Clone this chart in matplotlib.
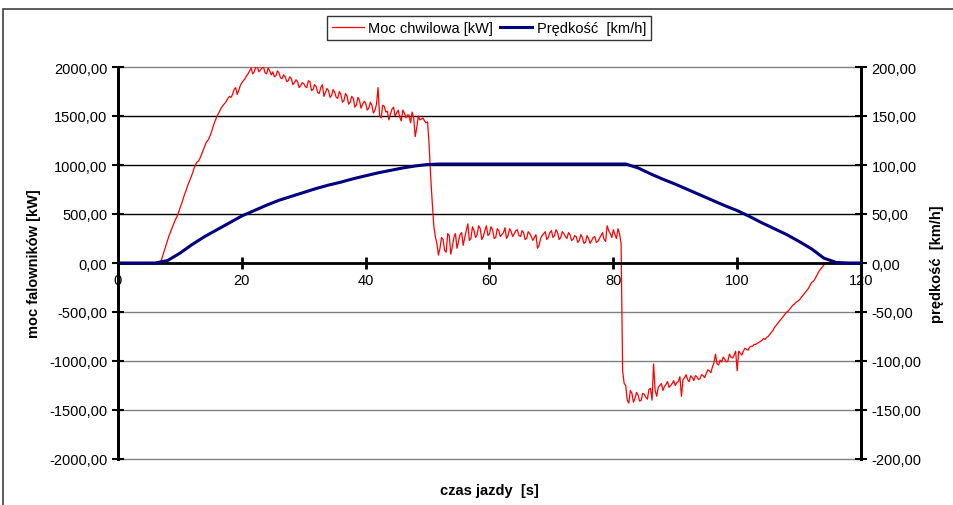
import numpy as np
import matplotlib
matplotlib.use("Agg")
import matplotlib.pyplot as plt
from matplotlib.ticker import FuncFormatter, MultipleLocator
from matplotlib.patches import Rectangle

plt.rcParams['font.family'] = ['Liberation Sans', 'DejaVu Sans']

# power read at whole/half seconds: t = 0, 0.5, ... 120
power_a = [
    0, 0, 0, 0, 0, 0, 0, 0, 0, 0,
    0, 0, 0, 0, 30, 130, 230, 320, 400, 470,
    560, 650, 740, 830, 910, 1000, 1040, 1110, 1190, 1250,
    1320, 1420, 1500, 1560, 1610, 1650, 1700, 1720, 1790, 1760,
    1840, 1880, 1930, 1990, 1950, 2000, 1970, 2000, 1930, 1960,
    1950, 1910, 1940, 1880, 1900, 1860, 1880, 1840, 1850, 1810,
    1830, 1790, 1850, 1770, 1800, 1730, 1820, 1740, 1760, 1710,
    1740, 1680, 1720, 1660, 1700, 1640, 1680, 1610, 1660, 1620,
    1630, 1580, 1610, 1560, 1790, 1480, 1600, 1550, 1520, 1590,
    1530, 1490, 1560, 1480, 1510, 1540, 1290, 1500, 1470, 1450,
    1440, 880, 380, 200, 150, 240, 110, 280, 170, 300,
    220, 310, 260, 400, 250, 330, 290, 350, 270, 380,
    300, 340, 260, 330, 290, 360, 280, 320, 300, 340,
    270, 310, 250, 300, 230, 290, 180, 280, 320, 260,
    330, 280, 310, 260, 300, 250, 290, 240, 270, 230,
    260, 210, 250, 230, 270, 220, 280, 240, 380, 300,
    340, 250, 300, -1100, -1250, -1430, -1330, -1380, -1350, -1400,
    -1340, -1390, -1280, -1030, -1360, -1250, -1300, -1240, -1270, -1230,
    -1250, -1210, -1360, -1170, -1190, -1150, -1200, -1160, -1180, -1150,
    -1130, -1100, -1060, -930, -1040, -1010, -980, -1000, -960, -940,
    -1100, -920, -900, -880, -860, -850, -830, -810, -790, -780,
    -750, -710, -660, -620, -580, -540, -500, -470, -430, -400,
    -380, -340, -300, -260, -200, -170, -110, -60, -20, 0,
    0, 0, 0, 0, 0, 0, 0, 0, 0, 0,
    0,
]
# power read at quarter seconds: t = 0.25, 0.75, ... 119.75
power_b = [
    0, 0, 0, 0, 0, 0, 0, 0, 0, 0,
    0, 0, 0, 0, 80, 180, 280, 360, 440, 510,
    600, 700, 790, 870, 960, 1030, 1070, 1150, 1230, 1280,
    1370, 1460, 1530, 1590, 1630, 1680, 1690, 1770, 1720, 1810,
    1860, 1910, 1960, 1930, 2000, 1950, 1990, 1940, 1990, 1920,
    1900, 1960, 1890, 1920, 1850, 1900, 1820, 1870, 1790, 1840,
    1800, 1860, 1760, 1820, 1740, 1790, 1700, 1780, 1690, 1770,
    1690, 1750, 1640, 1730, 1620, 1700, 1590, 1690, 1580, 1650,
    1560, 1640, 1530, 1620, 1500, 1610, 1540, 1460, 1570, 1500,
    1560, 1450, 1530, 1510, 1430, 1480, 1380, 1460, 1480, 1430,
    1200, 620, 270, 80, 260, 130, 300, 90, 260, 150,
    290, 180, 330, 230, 370, 260, 380, 240, 330, 280,
    370, 250, 350, 270, 310, 250, 350, 270, 330, 280,
    330, 240, 320, 270, 260, 150, 250, 300, 240, 310,
    260, 340, 240, 320, 270, 310, 230, 280, 210, 290,
    200, 280, 200, 260, 210, 250, 310, 220, 330, 260,
    290, 350, 200, -1230, -1400, -1300, -1420, -1320, -1410, -1330,
    -1370, -1290, -1400, -1300, -1270, -1230, -1260, -1210, -1250, -1200,
    -1220, -1160, -1190, -1140, -1210, -1170, -1150, -1190, -1140, -1170,
    -1090, -1120, -1020, -1030, -990, -960, -1010, -930, -970, -900,
    -900, -940, -870, -890, -850, -830, -820, -800, -770, -760,
    -730, -690, -640, -600, -560, -520, -490, -450, -420, -390,
    -360, -320, -280, -230, -190, -140, -80, -40, -5, 0,
    0, 0, 0, 0, 0, 0, 0, 0, 0, 0,
]

# speed read every 2 s
t_speed = np.arange(0, 122, 2)
speed = [
    0, 0, 0, 0, 2.5, 10, 19, 27, 34, 41,
    48, 53.5, 59, 64, 68, 72, 76, 79.5, 82.5, 86,
    89, 92, 94.5, 97, 99, 100.5, 101, 101, 101, 101,
    101, 101, 101, 101, 101, 101, 101, 101, 101, 101,
    101, 101, 97, 91, 85.5, 80.5, 75, 69.5, 64, 58.5,
    53.5, 47.5, 41, 35, 29, 22, 14.5, 5, 0.5, 0,
    0,
]

t_power = np.arange(0, 120.1, 0.25)
power = []
for i in range(len(power_b)):
    power.append(power_a[i])
    power.append(power_b[i])
power.append(power_a[-1])

def pl(v, pos):
    return ('%.2f' % v).replace('.', ',')

fig = plt.figure(figsize=(9.54, 5.06), dpi=100)
ax = fig.add_axes([118/954, 1-460/506, 743/954, 392/506])
ax2 = ax.twinx()

l1, = ax.plot(t_power, power, color='#ff0000', lw=0.9, label='Moc chwilowa [kW]')
l2, = ax2.plot(t_speed, speed, color='#000080', lw=2.2, label='Prędkość  [km/h]')

ax.set_xlim(0, 120)
ax.set_ylim(-2000, 2000)
ax2.set_ylim(-200, 200)
ax.xaxis.set_major_locator(MultipleLocator(20))
ax.yaxis.set_major_locator(MultipleLocator(500))
ax2.yaxis.set_major_locator(MultipleLocator(50))
ax.yaxis.set_major_formatter(FuncFormatter(pl))
ax2.yaxis.set_major_formatter(FuncFormatter(pl))

ax.grid(axis='y', color='#808080', lw=1.0)
for val, gl in zip(ax.get_yticks(), ax.get_ygridlines()):
    gl.set_clip_on(False)
    if 0 < val < 2000:
        gl.set_color('black')

for a in (ax, ax2):
    a.spines['top'].set_visible(False)
    a.spines['left'].set_linewidth(2)
    a.spines['right'].set_linewidth(2)
ax.spines['bottom'].set_position(('data', 0))
ax.spines['bottom'].set_linewidth(2)
ax2.spines['bottom'].set_visible(False)

ax.tick_params(axis='x', direction='inout', length=9, width=2, labelsize=10.5, pad=3)
ax.tick_params(axis='y', direction='inout', length=9, width=1.5, labelsize=10.5, pad=3)
ax2.tick_params(axis='y', direction='inout', length=9, width=1.5, labelsize=10.5, pad=3)

ax.set_ylabel('moc falowników [kW]', fontweight='bold', fontsize=10.5, labelpad=6)
ax2.set_ylabel('prędkość  [km/h]', fontweight='bold', fontsize=10.5, labelpad=6)
ax.set_xlabel('czas jazdy  [s]', fontweight='bold', fontsize=10.5)
ax.xaxis.set_label_coords(0.5, -0.06)

leg = fig.legend(handles=[l1, l2], loc='center', bbox_to_anchor=(489/954, 1-29/506),
                 ncol=2, fontsize=10.5, frameon=True, fancybox=False, edgecolor='black',
                 handlelength=2.2, handletextpad=0.3, columnspacing=0.5,
                 borderpad=0.35)
leg.get_frame().set_linewidth(1.0)

fig.patches.append(Rectangle((3/954, -0.5), 2, 0.5 + 1-10/506, transform=fig.transFigure,
                             fill=False, edgecolor='#404040', lw=1.2))

fig.savefig('out.png', dpi=100)
